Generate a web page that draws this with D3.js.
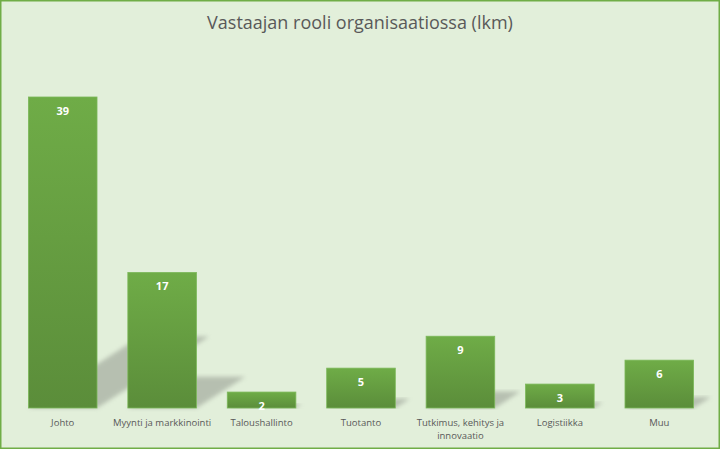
<!DOCTYPE html>
<html>
<head>
<meta charset="utf-8">
<script src="https://cdn.jsdelivr.net/npm/d3@7"></script>
<style>
  body { margin: 0; }
</style>
</head>
<body>
<div id="chart"></div>
<script>
var categories = ["Johto", "Myynti ja markkinointi", "Taloushallinto", "Tuotanto", "Tutkimus, kehitys ja innovaatio", "Logistiikka", "Muu"];
var values = [39, 17, 2, 5, 9, 3, 6];
var labelLines = [["Johto"], ["Myynti ja markkinointi"], ["Taloushallinto"], ["Tuotanto"], ["Tutkimus, kehitys ja", "innovaatio"], ["Logistiikka"], ["Muu"]];

var w = 720, h = 449;
var base = 408;

var svg = d3.select("#chart").append("svg")
    .attr("width", w).attr("height", h);

var defs = svg.append("defs");
var grad = defs.append("linearGradient").attr("id", "barGrad")
    .attr("x1", 0).attr("y1", 0).attr("x2", 0).attr("y2", 1);
grad.append("stop").attr("offset", "0%").attr("stop-color", "#6fac47");
grad.append("stop").attr("offset", "100%").attr("stop-color", "#5b8d3a");
defs.append("filter").attr("id", "blur")
    .append("feGaussianBlur").attr("stdDeviation", 2);

svg.append("rect")
    .attr("x", 0.75).attr("y", 0.75).attr("width", w - 1.5).attr("height", h - 1.5)
    .attr("fill", "#e2efda").attr("stroke", "#70ad47").attr("stroke-width", 1.5);

svg.append("text")
    .attr("x", w / 2).attr("y", 29)
    .attr("text-anchor", "middle")
    .attr("font-family", "Open Sans, sans-serif")
    .attr("font-size", "18px")
    .attr("fill", "#595959")
    .text("Vastaajan rooli organisaatiossa (lkm)");

var xScale = d3.scaleBand()
    .domain(categories)
    .range([13, 709])
    .paddingInner(0.31)
    .paddingOuter(0.155);

var yScale = d3.scaleLinear()
    .domain([0, 39])
    .range([base, 97]);

// shadows
svg.selectAll("path.shadow")
    .data(values)
    .enter()
    .append("path")
    .attr("class", "shadow")
    .attr("d", function(d, i) {
        var x0 = xScale(categories[i]), x1 = x0 + xScale.bandwidth();
        var bh = base - yScale(d);
        var dx = bh * 0.36, dy = bh * 0.23;
        return "M" + x0 + "," + base + "L" + x1 + "," + base +
            "L" + (x1 + dx) + "," + (base - dy) + "L" + (x0 + dx) + "," + (base - dy) + "Z";
    })
    .attr("fill", "#9aa095")
    .attr("opacity", 0.6)
    .attr("filter", "url(#blur)");

svg.selectAll("rect.bar")
    .data(values)
    .enter()
    .append("rect")
    .attr("class", "bar")
    .attr("x", function(d, i) { return xScale(categories[i]); })
    .attr("y", function(d) { return yScale(d); })
    .attr("width", xScale.bandwidth())
    .attr("height", function(d) { return base - yScale(d); })
    .attr("fill", "url(#barGrad)")
    .attr("stroke", "#7cb85a")
    .attr("stroke-width", 0.8);

svg.selectAll("text.val")
    .data(values)
    .enter()
    .append("text")
    .attr("class", "val")
    .attr("x", function(d, i) { return xScale(categories[i]) + xScale.bandwidth() / 2; })
    .attr("y", function(d) { return yScale(d) + 18; })
    .attr("text-anchor", "middle")
    .attr("font-family", "Open Sans, sans-serif")
    .attr("font-weight", "bold")
    .attr("font-size", "11px")
    .attr("fill", "#ffffff")
    .text(function(d) { return d; });

var lab = svg.selectAll("text.cat")
    .data(labelLines)
    .enter()
    .append("text")
    .attr("class", "cat")
    .attr("text-anchor", "middle")
    .attr("font-family", "Open Sans, sans-serif")
    .attr("font-size", "9.5px")
    .attr("fill", "#595959");
lab.selectAll("tspan")
    .data(function(d, i) { return d.map(function(t) { return { t: t, i: i }; }); })
    .enter()
    .append("tspan")
    .attr("x", function(d) { return xScale(categories[d.i]) + xScale.bandwidth() / 2; })
    .attr("y", function(d, j) { return 426 + j * 13; })
    .text(function(d) { return d.t; });
</script>
</body>
</html>
